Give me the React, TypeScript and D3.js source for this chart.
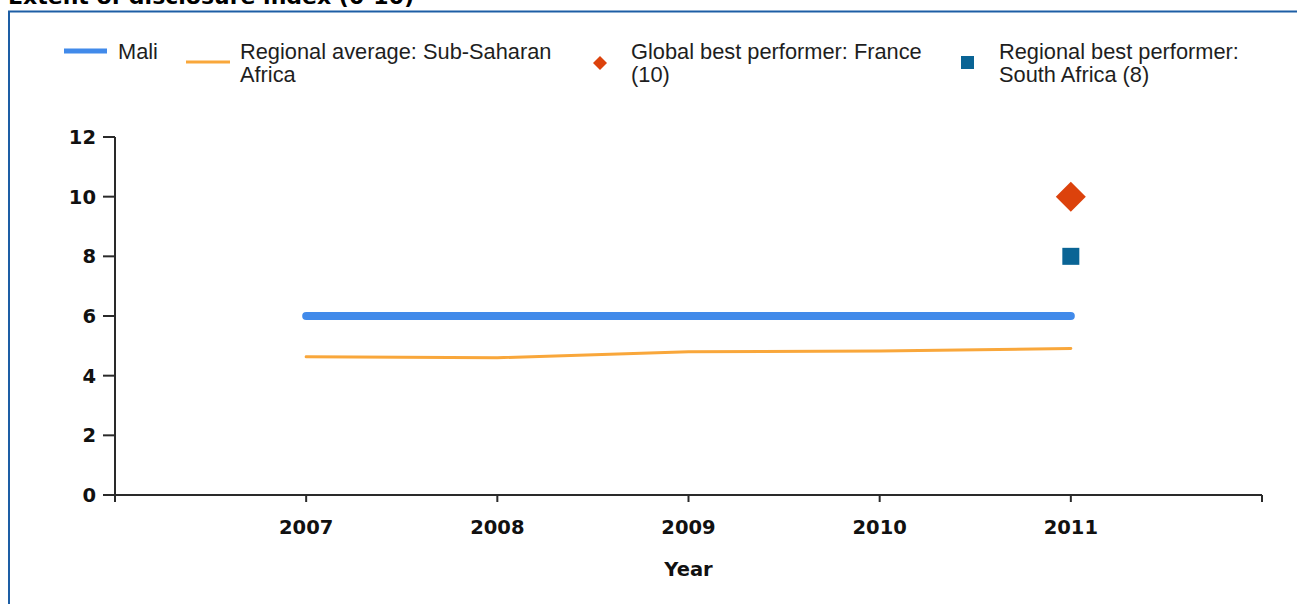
import React from "react";
import * as d3 from "d3";

const years = [2007, 2008, 2009, 2010, 2011];
const maliValues = [6, 6, 6, 6, 6];
const regionalAvg = [4.63, 4.6, 4.8, 4.83, 4.91];
const globalBest = [{ year: 2011, value: 10 }];
const regionalBest = [{ year: 2011, value: 8 }];
const yTicks = [0, 2, 4, 6, 8, 10, 12];
const xTicks = [2007, 2008, 2009, 2010, 2011];
const legendItems = [
  { key: "mali", lines: ["Mali"] },
  { key: "avg", lines: ["Regional average: Sub-Saharan", "Africa"] },
  { key: "global", lines: ["Global best performer: France", "(10)"] },
  { key: "regional", lines: ["Regional best performer:", "South Africa (8)"] },
];

const W = 1297;
const H = 604;
const COL_MALI = "#418aea";
const COL_AVG = "#f9a73b";
const COL_GLOBAL = "#dc420c";
const COL_REG = "#0a6495";
const FRAME = "#1d5ea5";
const AXIS = "#2a2a2a";

export default function App() {
  const x = d3.scaleLinear().domain([2006, 2012]).range([115, 1262]);
  const y = d3.scaleLinear().domain([0, 12]).range([495, 137]);

  const line = d3
    .line<number>()
    .x((_, i) => x(years[i]))
    .y((d) => y(d));

  const diamond = (cx: number, cy: number, r: number) =>
    `M${cx},${cy - r}L${cx + r},${cy}L${cx},${cy + r}L${cx - r},${cy}Z`;

  const legendX = [64, 186, 590, 958];
  const textX = [118, 240, 631, 999];

  return (
    <svg
      width={W}
      height={H}
      style={{ position: "absolute", left: 0, top: 0, background: "#fff" }}
    >
      {/* title (cut off at top, as in the source) */}
      <text
        x={8}
        y={4}
        fontFamily="'DejaVu Sans', Verdana, sans-serif"
        fontWeight="bold"
        fontSize={22}
        fill="#000"
      >
        Extent of disclosure index (0-10)
      </text>
      {/* frame */}
      <line x1={8} x2={W} y1={11.5} y2={11.5} stroke={FRAME} strokeWidth={2} />
      <line x1={9} x2={9} y1={11} y2={H} stroke={FRAME} strokeWidth={2} />

      {/* legend */}
      <g fontFamily="'Liberation Sans', Arial, sans-serif" fontSize={21.8} fill="#1e1e1e">
        {legendItems.map((item, i) => (
          <text key={item.key} x={textX[i]} y={59}>
            {item.lines.map((l, j) => (
              <tspan key={j} x={textX[i]} dy={j === 0 ? 0 : 23}>
                {l}
              </tspan>
            ))}
          </text>
        ))}
      </g>
      <line x1={legendX[0]} x2={107} y1={51} y2={51} stroke={COL_MALI} strokeWidth={5} />
      <line x1={legendX[1]} x2={230} y1={62} y2={62} stroke={COL_AVG} strokeWidth={3} />
      <path d={diamond(600, 63, 7)} fill={COL_GLOBAL} />
      <rect x={961} y={56} width={13} height={13} fill={COL_REG} />

      {/* axes */}
      <g stroke={AXIS} strokeWidth={2} fill="none">
        <line x1={115} x2={115} y1={y(12)} y2={y(0)} />
        <line x1={115} x2={1262} y1={y(0)} y2={y(0)} />
        {yTicks.map((t) => (
          <line key={t} x1={103} x2={115} y1={y(t)} y2={y(t)} />
        ))}
        {[2006, ...xTicks, 2012].map((t) => (
          <line key={t} x1={x(t)} x2={x(t)} y1={y(0)} y2={y(0) + 7} />
        ))}
      </g>
      <g fontFamily="'DejaVu Sans', Verdana, sans-serif" fontWeight="bold" fontSize={19.5} fill="#111">
        {yTicks.map((t) => (
          <text key={t} x={96} y={y(t)} dy="0.36em" textAnchor="end">
            {t}
          </text>
        ))}
        {xTicks.map((t) => (
          <text key={t} x={x(t)} y={534} textAnchor="middle">
            {t}
          </text>
        ))}
        <text x={x(2009)} y={576} textAnchor="middle">
          Year
        </text>
      </g>

      {/* series */}
      <path d={line(regionalAvg) || ""} fill="none" stroke={COL_AVG} strokeWidth={3} strokeLinecap="round" />
      <path d={line(maliValues) || ""} fill="none" stroke={COL_MALI} strokeWidth={8} strokeLinecap="round" />
      {globalBest.map((d) => (
        <path key={d.year} d={diamond(x(d.year), y(d.value), 15)} fill={COL_GLOBAL} />
      ))}
      {regionalBest.map((d) => (
        <rect
          key={d.year}
          x={x(d.year) - 8.5}
          y={y(d.value) - 8.5}
          width={17}
          height={17}
          fill={COL_REG}
        />
      ))}
    </svg>
  );
}
